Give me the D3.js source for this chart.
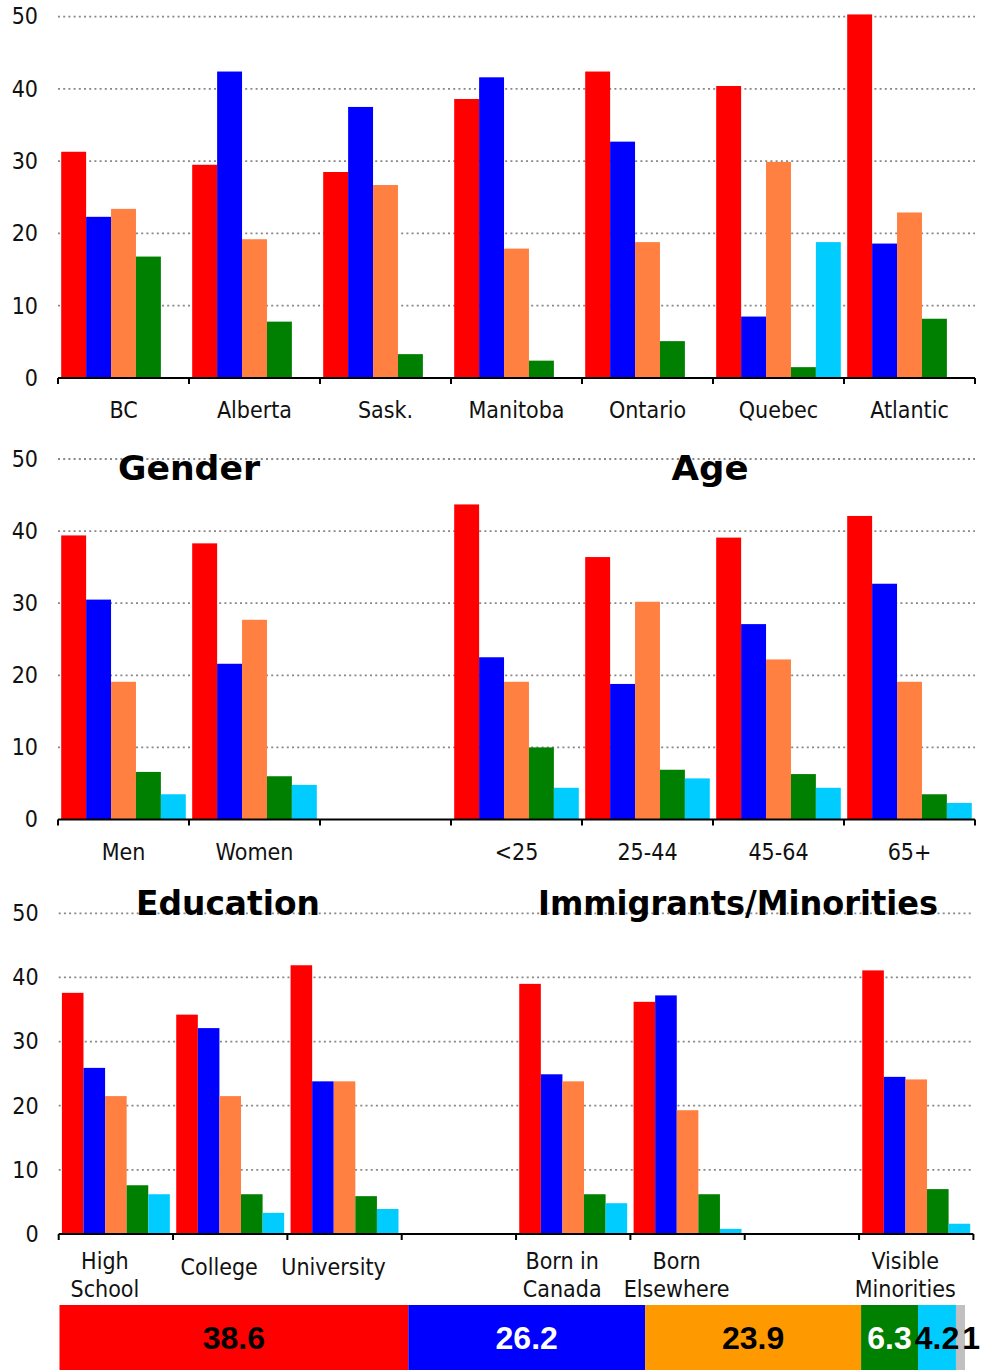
<!DOCTYPE html>
<html>
<head>
<meta charset="utf-8">
<script src="https://cdn.jsdelivr.net/npm/d3@7"></script>
<style>
  html, body { margin: 0; padding: 0; background: #fff; }
  svg { display: block; }
  .lbl { font-family: "DejaVu Sans Condensed", "DejaVu Sans", sans-serif; font-stretch: condensed; font-size: 23px; fill: #111; }
  .title { font-family: "DejaVu Sans", sans-serif; font-weight: bold; font-size: 34px; fill: #000; }
  .sum { font-family: "Liberation Sans", Arial, sans-serif; font-weight: bold; font-size: 32px; }
</style>
</head>
<body>
<svg id="chart" width="981" height="1372"></svg>
<script>
// ---------- DATA ----------
const seriesNames = ["Red", "Blue", "Orange", "Green", "Cyan"];
const seriesColors = ["#ff0000", "#0000ff", "#ff8040", "#008000", "#00ccff"];
const yTicks = [0, 10, 20, 30, 40, 50];

// Panel 1: regions
const regionCats = ["BC", "Alberta", "Sask.", "Manitoba", "Ontario", "Quebec", "Atlantic"];
const regionRed    = [31.3, 29.5, 28.5, 38.6, 42.4, 40.4, 50.3];
const regionBlue   = [22.3, 42.4, 37.5, 41.6, 32.7, 8.5, 18.6];
const regionOrange = [23.4, 19.2, 26.7, 17.9, 18.8, 29.9, 22.9];
const regionGreen  = [16.8, 7.8, 3.3, 2.4, 5.1, 1.5, 8.2];
const regionCyan   = [0, 0, 0, 0, 0, 18.8, 0];

// Panel 2: gender & age
const demoCats = ["Men", "Women", "", "<25", "25-44", "45-64", "65+"];
const demoRed    = [39.4, 38.3, null, 43.7, 36.4, 39.1, 42.1];
const demoBlue   = [30.5, 21.6, null, 22.5, 18.8, 27.1, 32.7];
const demoOrange = [19.1, 27.7, null, 19.1, 30.2, 22.2, 19.1];
const demoGreen  = [6.6, 6.0, null, 10.0, 6.9, 6.3, 3.5];
const demoCyan   = [3.5, 4.8, null, 4.4, 5.7, 4.4, 2.3];
const demoTitles = ["Gender", "Age"];

// Panel 3: education & immigrants/minorities
const socCats = [["High", "School"], ["College"], ["University"], [], ["Born in", "Canada"], ["Born", "Elsewhere"], [], ["Visible", "Minorities"]];
const socRed    = [37.6, 34.2, 41.9, null, 39.0, 36.2, null, 41.1];
const socBlue   = [25.9, 32.1, 23.8, null, 24.9, 37.2, null, 24.5];
const socOrange = [21.5, 21.5, 23.8, null, 23.8, 19.3, null, 24.1];
const socGreen  = [7.6, 6.2, 5.9, null, 6.2, 6.2, null, 7.0];
const socCyan   = [6.2, 3.3, 3.9, null, 4.8, 0.8, null, 1.6];
const socTitles = ["Education", "Immigrants/Minorities"];

// Summary bar
const sumLabels = ["38.6", "26.2", "23.9", "6.3", "4.2", "1"];
const sumValues = [38.6, 26.2, 23.9, 6.3, 4.2, 1.0];
const sumColors = ["#ff0000", "#0000ff", "#ff9900", "#008000", "#00ccff", "#c0c0c0"];
const sumTextColors = ["#000", "#fff", "#000", "#fff", "#000", "#000"];

// ---------- DRAW ----------
const svg = d3.select("#chart");

function panel(cfg) {
  const g = svg.append("g");
  const ids = cfg.cats.map((c, i) => i);
  const x = d3.scaleBand().domain(ids).range([cfg.x0, cfg.x1]).padding(0);
  const xi = d3.scaleBand().domain(seriesNames).range([3.2, x.bandwidth() - 3.2]).padding(0);
  const y = d3.scaleLinear().domain([0, 50]).range([cfg.yBase, cfg.yTop]);

  // gridlines
  g.append("g").selectAll("line").data(yTicks.filter(t => t > 0)).join("line")
    .attr("x1", cfg.x0).attr("x2", cfg.x1)
    .attr("y1", d => y(d)).attr("y2", d => y(d))
    .attr("stroke", "#888").attr("stroke-width", 1.8)
    .attr("stroke-dasharray", "2,3.2");

  // y axis labels
  const ya = g.append("g").attr("transform", `translate(${cfg.x0},0)`)
    .call(d3.axisLeft(y).tickValues(yTicks).tickSize(0).tickPadding(20).tickFormat(d3.format("d")));
  ya.select(".domain").remove();
  ya.selectAll("text").attr("class", "lbl").attr("font-family", null).attr("font-size", null);

  // bars
  const rows = ids.map(i => seriesNames.map((s, k) => ({ i, k, s, v: cfg.values[k][i] })));
  g.append("g").selectAll("g").data(rows).join("g")
    .attr("transform", d => `translate(${x(d[0].i)},0)`)
    .selectAll("rect").data(d => d.filter(e => e.v != null && e.v > 0)).join("rect")
    .attr("x", d => xi(d.s)).attr("width", xi.bandwidth())
    .attr("y", d => y(d.v)).attr("height", d => y(0) - y(d.v))
    .attr("fill", d => seriesColors[d.k]);

  // x axis line + ticks
  g.append("line").attr("x1", cfg.x0).attr("x2", cfg.x1)
    .attr("y1", y(0)).attr("y2", y(0)).attr("stroke", "#000").attr("stroke-width", 2.2);
  const bounds = ids.map(i => x(i)).concat([cfg.x1]);
  g.append("g").selectAll("line").data(bounds).join("line")
    .attr("x1", d => d).attr("x2", d => d)
    .attr("y1", y(0)).attr("y2", y(0) + 6)
    .attr("stroke", "#000").attr("stroke-width", 2);

  // category labels
  const lab = g.append("g").selectAll("text").data(ids).join("text")
    .attr("class", "lbl").attr("text-anchor", "middle")
    .attr("transform", i => `translate(${x(i) + x.bandwidth() / 2 + cfg.labelDx},${cfg.yBase})`);
  lab.each(function (i) {
    const lines = Array.isArray(cfg.cats[i]) ? cfg.cats[i] : [cfg.cats[i]];
    const sel = d3.select(this);
    const n = lines.length;
    lines.forEach((t, j) => {
      const yy = n === 1 ? cfg.labelY1 : cfg.labelY2[j];
      sel.append("tspan").attr("x", 0).attr("y", yy).text(t);
    });
  });

  // titles
  if (cfg.titles) {
    g.append("g").selectAll("text").data(cfg.titles).join("text")
      .attr("class", "title").attr("text-anchor", "middle")
      .attr("x", (d, j) => cfg.titleX[j]).attr("y", cfg.titleY)
      .attr("textLength", (d, j) => cfg.titleW[j]).attr("lengthAdjust", "spacingAndGlyphs")
      .text(d => d);
  }
}

panel({
  cats: regionCats, values: [regionRed, regionBlue, regionOrange, regionGreen, regionCyan],
  x0: 58, x1: 975, yTop: 16.6, yBase: 378, labelDx: 0, labelY1: 40, labelY2: []
});

panel({
  cats: demoCats, values: [demoRed, demoBlue, demoOrange, demoGreen, demoCyan],
  x0: 58, x1: 975, yTop: 459, yBase: 819.5, labelDx: 0, labelY1: 40, labelY2: [],
  titles: demoTitles, titleX: [189, 710], titleY: 480, titleW: [142, 77]
});

panel({
  cats: socCats, values: [socRed, socBlue, socOrange, socGreen, socCyan],
  x0: 58.7, x1: 973.4, yTop: 913.3, yBase: 1234, labelDx: -11, labelY1: 41, labelY2: [35, 63],
  titles: socTitles, titleX: [228, 738], titleY: 915, titleW: [184, 400]
});

// summary stacked bar
const total = d3.sum(sumValues);
const xs = d3.scaleLinear().domain([0, total]).range([59.5, 965]);
const cum = sumValues.map((v, i) => ({ v, i, start: d3.sum(sumValues.slice(0, i)) }));
const sg = svg.append("g");
sg.selectAll("rect").data(cum).join("rect")
  .attr("x", d => xs(d.start)).attr("width", d => xs(d.start + d.v) - xs(d.start))
  .attr("y", 1305).attr("height", 65)
  .attr("fill", d => sumColors[d.i]);
sg.selectAll("text").data(cum).join("text")
  .attr("class", "sum")
  .attr("text-anchor", d => d.i === cum.length - 1 ? "end" : "middle")
  .attr("x", d => d.i === cum.length - 1 ? 980 : xs(d.start + d.v / 2))
  .attr("y", 1349)
  .attr("fill", d => sumTextColors[d.i])
  .text(d => sumLabels[d.i]);
</script>
</body>
</html>
